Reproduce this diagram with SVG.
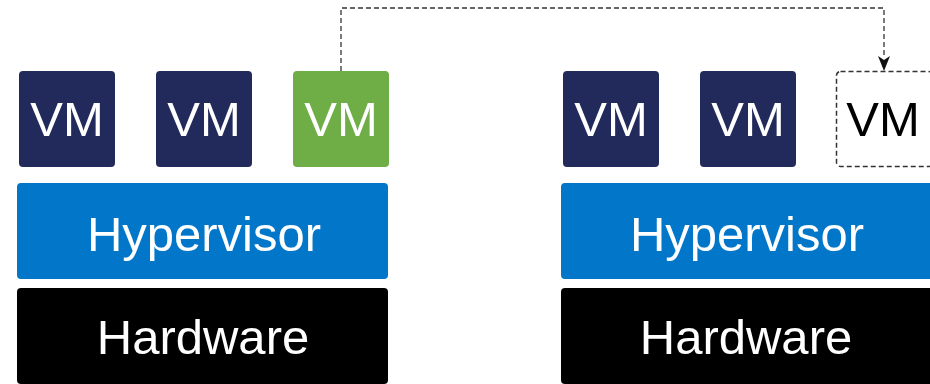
<svg xmlns="http://www.w3.org/2000/svg" width="930" height="384" viewBox="0 0 930 384">
<style>
.vm{fill:#212a5b}
.vmg{fill:#6fad47}
.hyp{fill:#0277c9}
.hw{fill:#000}
.ghost{fill:#fff;stroke:#333;stroke-width:1.5;stroke-dasharray:5 3}
.t{font-family:"Liberation Sans",Arial,sans-serif;font-size:49px;fill:#fff;text-anchor:middle}
.tb{fill:#000}
.conn{fill:none;stroke:#333;stroke-width:1.3;stroke-dasharray:5 3}
.head{fill:#111}
</style>
<rect width="930" height="384" fill="#fff"/>
<g id="vm1"><rect class="vm" x="19" y="71" width="96" height="96" rx="4"/><text class="t" x="67" y="136">VM</text></g>
<g id="vm2"><rect class="vm" x="156" y="71" width="96" height="96" rx="4"/><text class="t" x="204" y="136">VM</text></g>
<g id="vm3"><rect class="vmg" x="293" y="71" width="96" height="96" rx="4"/><text class="t" x="341" y="136">VM</text></g>
<g id="hyp1"><rect class="hyp" x="17" y="183" width="371" height="96" rx="4"/><text class="t" x="204" y="251">Hypervisor</text></g>
<g id="hw1"><rect class="hw" x="17" y="288" width="371" height="96" rx="4"/><text class="t" x="203" y="354">Hardware</text></g>
<g id="vm4"><rect class="vm" x="563" y="71" width="96" height="96" rx="4"/><text class="t" x="611" y="136">VM</text></g>
<g id="vm5"><rect class="vm" x="700" y="71" width="96" height="96" rx="4"/><text class="t" x="748" y="136">VM</text></g>
<g id="vm6"><rect class="ghost" x="836.5" y="71.5" width="96" height="95" rx="4"/><text class="t tb" x="883" y="136">VM</text></g>
<g id="hyp2"><rect class="hyp" x="561" y="183" width="380" height="96" rx="4"/><text class="t" x="747" y="251">Hypervisor</text></g>
<g id="hw2"><rect class="hw" x="561" y="288" width="380" height="96" rx="4"/><text class="t" x="746" y="354">Hardware</text></g>
<g id="connectors">
<path class="conn" d="M341,71 V8 H884 V57"/>
<path class="head" d="M878,56 L884,60 L890,56 L884,71 Z"/>
</g>
</svg>
